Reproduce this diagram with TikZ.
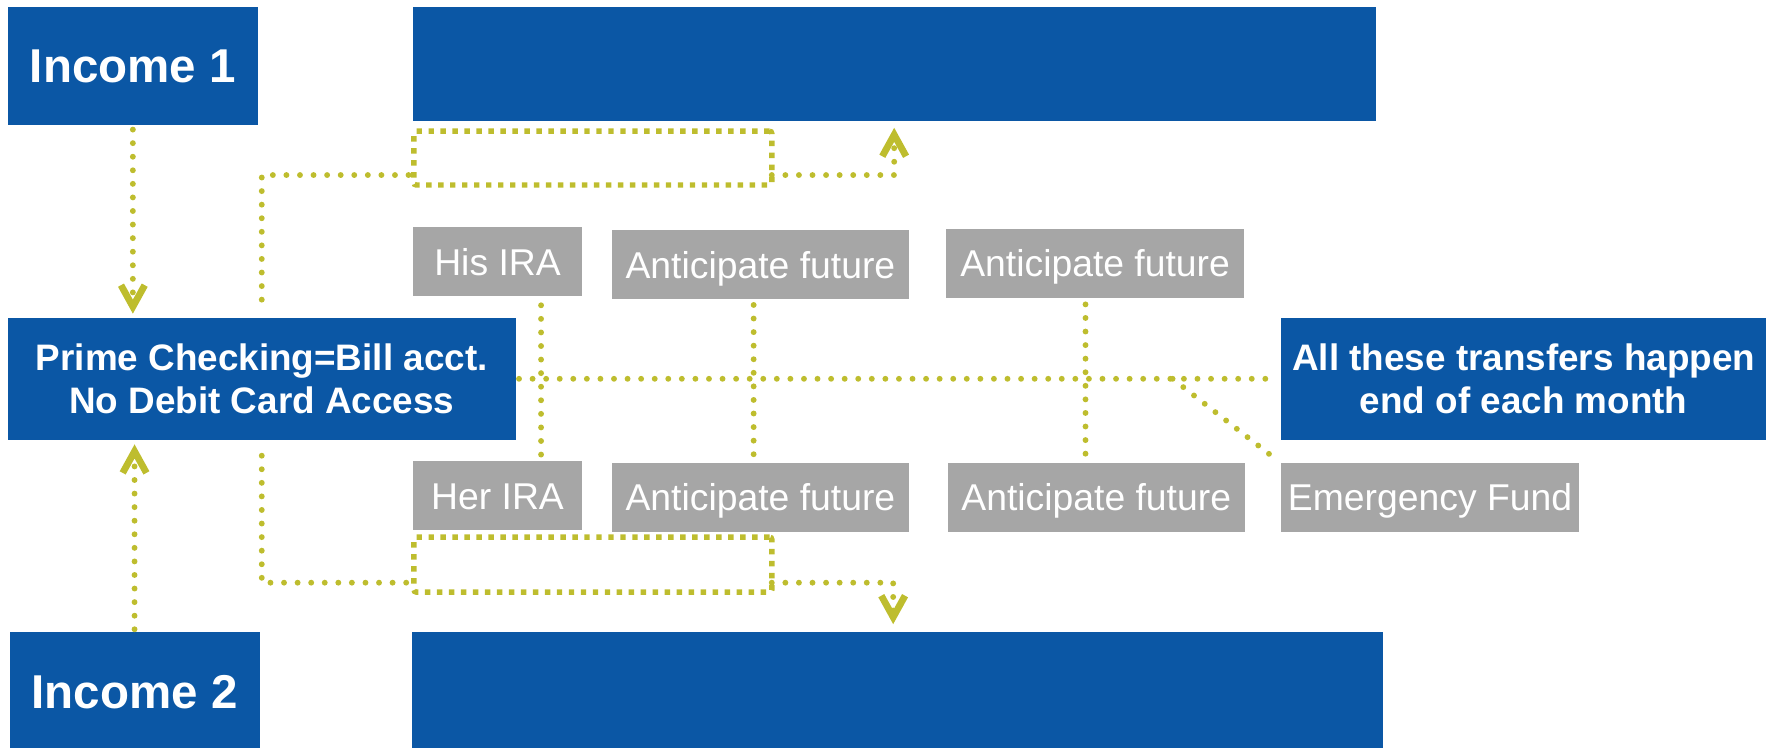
\documentclass[tikz,border=0pt]{standalone}
\usepackage{fontspec}
\setmainfont{Liberation Sans}
\usetikzlibrary{arrows.meta}
\definecolor{acctblue}{RGB}{11,87,165}
\definecolor{boxgray}{RGB}{166,166,166}
\definecolor{flowgreen}{RGB}{190,189,46}

\begin{document}
\begin{tikzpicture}[x=1pt,y=-1pt,
  bluebox/.style={fill=acctblue, text=white, inner sep=0pt, outer sep=0pt, align=center,
    font=\fontsize{32.6}{38}\selectfont\bfseries},
  incomebox/.style={bluebox, font=\fontsize{42}{50}\selectfont\bfseries},
  graybox/.style={fill=boxgray, text=white, inner sep=0pt, outer sep=0pt,
    minimum height=61pt, text height=23.6pt, text depth=0pt,
    font=\fontsize{33}{40}\selectfont},
  holdbox/.style={draw=flowgreen, line width=4.8pt, dash pattern=on 4.8pt off 5.8pt,
    line cap=butt, rounded corners=2pt, inner sep=0pt, outer sep=0pt,
    minimum width=316.5pt},
  flow/.style={draw=flowgreen, line width=5.2pt, line cap=round,
    dash pattern=on 0pt off 12pt},
  chev/.tip={Straight Barb[length=19pt, width=21pt, line width=6pt]}
]
\useasboundingbox (0,0) rectangle (1568,661);

% income sources and accounts
\node[incomebox, minimum width=221pt, minimum height=104.6pt] (inc1) at (117.5,58.3) {Income 1};
\node[incomebox, minimum width=221pt, minimum height=106pt] (inc2) at (119,612) {Income 2};
\node[bluebox, minimum width=851.6pt, minimum height=100.8pt] (topbar) at (790.8,56.6) {};
\node[bluebox, minimum width=858.3pt, minimum height=106pt] (botbar) at (793.9,612) {};
\node[bluebox, minimum width=449pt, minimum height=108pt] (prime) at (231.5,335)
  {Prime Checking=Bill acct.\\No Debit Card Access};
\node[bluebox, minimum width=429pt, minimum height=108pt] (note) at (1347.5,335)
  {All these transfers happen\\end of each month};

% savings targets
\node[graybox, minimum width=150pt] (hisira) at (440,231.5) {His IRA};
\node[graybox, minimum width=263pt] (antA) at (672.5,234.2) {Anticipate future};
\node[graybox, minimum width=263pt] (antB) at (968.5,232.7) {Anticipate future};
\node[graybox, minimum width=150pt] (herira) at (440,438.5) {Her IRA};
\node[graybox, minimum width=263pt] (antC) at (672.5,440) {Anticipate future};
\node[graybox, minimum width=263pt] (antD) at (969.5,440) {Anticipate future};
\node[graybox, minimum width=264pt] (emerg) at (1264.7,440) {Emergency Fund};

% holding frames on the transfer routes
\node[holdbox, minimum height=47.6pt] (rtop) at (524.3,139.8) {};
\node[holdbox, minimum height=48.6pt] (rbot) at (524.3,499.3) {};

% deposits into checking
\draw[flow, -{chev}, shorten <=4pt, shorten >=3.6pt] (inc1.south) -- (inc1.south |- prime.north);
\draw[flow, -{chev}, shorten <=2.5pt, shorten >=4pt] (inc2.north) -- (inc2.north |- prime.south);

% routes to the top and bottom accounts
\draw[flow, shorten <=16pt] (prime.north) |- ([yshift=-15pt]rtop.west);
\draw[flow, -{chev}, shorten >=6pt] ([yshift=-15pt]rtop.east) -| (topbar.south);
\draw[flow, shorten <=14pt] (prime.south) |- ([yshift=-16pt]rbot.west);
\draw[flow, -{chev}, shorten >=7pt] ([yshift=-16pt]rbot.east) -| ([xshift=-4pt]botbar.north);

% monthly transfer line and its branches
\draw[flow, shorten <=3pt, shorten >=10pt] (prime.east) -- (note.west);
\draw[flow, shorten <=8pt, shorten >=6pt] ([xshift=38.5pt]hisira.south) -- ([xshift=38.5pt]herira.north);
\draw[flow, shorten <=5pt, shorten >=7pt] ([xshift=-6pt]antA.south) -- ([xshift=-6pt]antC.north);
\draw[flow, shorten <=6pt, shorten >=7pt] ([xshift=-8.5pt]antB.south) -- ([xshift=-9.5pt]antD.north);
\coordinate (split) at (1037,335);
\draw[flow, shorten >=11pt] (split) -- (emerg.north west);
\end{tikzpicture}
\end{document}
